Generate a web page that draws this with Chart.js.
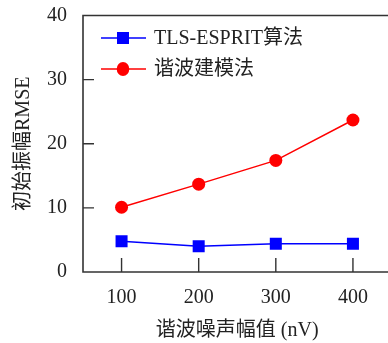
<!DOCTYPE html>
<html>
<head>
<meta charset="utf-8">
<script src="https://cdn.jsdelivr.net/npm/chart.js@4.4.1/dist/chart.umd.min.js"></script>
<style>
html,body{margin:0;padding:0;background:#fff;overflow:hidden;width:388px;height:343px;}
#wrap{width:400px;height:343px;}
</style>
</head>
<body>
<div id="wrap"><canvas id="c" width="400" height="343"></canvas></div>
<script>
const categories = [100, 200, 300, 400];
const tlsEsprit = [4.8, 4.0, 4.4, 4.4];
const harmonicModel = [10.1, 13.7, 17.4, 23.7];
const yTicks = [0, 10, 20, 30, 40];
const seriesNames = ['TLS-ESPRIT算法', '谐波建模法'];
const xTitle = '谐波噪声幅值 (nV)';
const yTitle = '初始振幅RMSE';

const FONT = "'Liberation Serif', 'Noto Sans CJK SC', serif";
const AXIS = '#333333';
const TEXT = '#222222';

const framePlugin = {
  id: 'frame',
  afterDraw(chart) {
    const {ctx, chartArea: a, scales: {x, y}} = chart;
    ctx.save();
    ctx.strokeStyle = AXIS;
    ctx.lineWidth = 1.6;
    ctx.beginPath();
    ctx.moveTo(a.left, a.top); ctx.lineTo(a.right, a.top);
    ctx.lineTo(a.right, a.bottom); ctx.lineTo(a.left, a.bottom);
    ctx.closePath();
    ctx.stroke();
    ctx.lineWidth = 1.4;
    ctx.beginPath();
    categories.forEach(v => {
      const px = x.getPixelForValue(v);
      ctx.moveTo(px, a.bottom); ctx.lineTo(px, a.bottom - 14);
    });
    yTicks.slice(1, -1).forEach(v => {
      const py = y.getPixelForValue(v);
      ctx.moveTo(a.left, py); ctx.lineTo(a.left + 11, py);
    });
    ctx.stroke();
    // legend
    const rows = [38, 69];
    chart.data.datasets.forEach((ds, i) => {
      const yy = rows[i];
      ctx.strokeStyle = ds.borderColor;
      ctx.lineWidth = 1.5;
      ctx.beginPath(); ctx.moveTo(101, yy); ctx.lineTo(146, yy); ctx.stroke();
      ctx.fillStyle = ds.backgroundColor;
      ctx.beginPath();
      if (ds.pointStyle === 'rect') {
        ctx.rect(123 - 6, yy - 6, 12, 12);
      } else {
        ctx.ellipse(123, yy, 6.3, 7, 0, 0, Math.PI * 2);
      }
      ctx.fill();
      ctx.fillStyle = TEXT;
      ctx.font = '20px ' + FONT;
      ctx.textBaseline = 'middle';
      ctx.textAlign = 'left';
      ctx.fillText(ds.label, 154, yy + 1);
    });
    ctx.restore();
  }
};

new Chart(document.getElementById('c'), {
  type: 'line',
  data: {
    datasets: [
      {
        label: seriesNames[0],
        data: categories.map((c, i) => ({x: c, y: tlsEsprit[i]})),
        borderColor: '#0000ff', backgroundColor: '#0000ff',
        borderWidth: 1.5, pointStyle: 'rect', pointRadius: 8.5,
        pointBorderWidth: 0, tension: 0
      },
      {
        label: seriesNames[1],
        data: categories.map((c, i) => ({x: c, y: harmonicModel[i]})),
        borderColor: '#ff0000', backgroundColor: '#ff0000',
        borderWidth: 1.5, pointStyle: 'circle', pointRadius: 6.5,
        pointBorderWidth: 0, tension: 0
      }
    ]
  },
  options: {
    responsive: false,
    animation: false,
    layout: {padding: {left: 0, top: 15.5, right: 8, bottom: 0}},
    plugins: {legend: {display: false}, tooltip: {enabled: false}},
    scales: {
      x: {
        type: 'linear', min: 50, max: 450,
        afterBuildTicks: s => { s.ticks = categories.map(v => ({value: v})); },
        afterFit: s => { s.height = 71; s.paddingLeft = 0; s.paddingRight = 0; },
        grid: {display: false, drawTicks: false},
        border: {display: false},
        ticks: {padding: 14, color: TEXT, font: {family: FONT, size: 20}, maxRotation: 0},
        title: {display: true, text: xTitle, color: TEXT, font: {family: FONT, size: 20}, padding: {top: 0, bottom: 0}}
      },
      y: {
        min: 0, max: 40,
        afterBuildTicks: s => { s.ticks = yTicks.map(v => ({value: v})); },
        afterFit: s => { s.width = 83; s.paddingTop = 0; s.paddingBottom = 0; },
        grid: {display: false, drawTicks: false},
        border: {display: false},
        ticks: {padding: 16, color: TEXT, font: {family: FONT, size: 20}},
        title: {display: true, text: yTitle, color: TEXT, font: {family: FONT, size: 20}, padding: {top: 12, bottom: 0}}
      }
    }
  },
  plugins: [framePlugin]
});
</script>
</body>
</html>
